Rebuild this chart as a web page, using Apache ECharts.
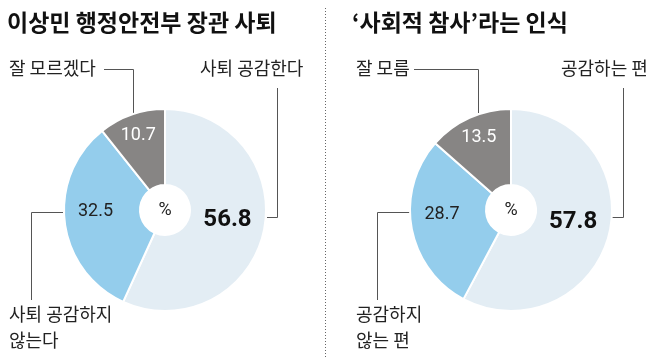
<!DOCTYPE html>
<html><head><meta charset="utf-8">
<script src="https://cdn.jsdelivr.net/npm/echarts@6/dist/echarts.min.js"></script>
<style>html,body{margin:0;padding:0;background:#fff}#c{width:658px;height:360px}</style>
</head><body><div id="c"></div>
<script>
const titles = ['이상민 행정안전부 장관 사퇴', '‘사회적 참사’라는 인식'];
const leftNames = ['사퇴 공감한다', '사퇴 공감하지\n않는다', '잘 모르겠다'];
const leftValues = [56.8, 32.5, 10.7];
const rightNames = ['공감하는 편', '공감하지\n않는 편', '잘 모름'];
const rightValues = [57.8, 28.7, 13.5];
const colors = ['#e3edf4', '#94cdec', '#878584'];

const CJK = '"Noto Sans CJK KR", "Noto Sans", sans-serif';
const NUM = 'Roboto, "Liberation Sans", sans-serif';

function pieSeries(names, values, cx) {
  return {
    type: 'pie', center: [cx, 210], radius: [25, 101],
    startAngle: 90, clockwise: true, silent: true,
    itemStyle: { borderColor: '#fff', borderWidth: 2 },
    labelLine: { show: false },
    data: values.map((v, i) => ({
      name: names[i], value: v,
      itemStyle: { color: colors[i] },
      label: i === 0
        ? { show: true, position: 'inside', formatter: '{c}', fontFamily: NUM, fontSize: 24, fontWeight: 'bold', color: '#111', offset: [-2, -4] }
        : i === 1
        ? { show: true, position: 'inside', formatter: '{c}', fontFamily: NUM, fontSize: 18, color: '#222', offset: [-4, -7] }
        : { show: true, position: 'inside', formatter: '{c}', fontFamily: NUM, fontSize: 18, color: '#fff', offset: [-5, -12] }
    }))
  };
}

const lineStyle = { stroke: '#555', lineWidth: 1, fill: null };
function poly(pts) { return { type: 'polyline', shape: { points: pts }, style: lineStyle, silent: true }; }
function txt(x, y, s, extra) {
  return Object.assign({ type: 'text', x: x, y: y, silent: true,
    style: Object.assign({ text: s, font: '18px ' + CJK, fill: '#222', lineHeight: 26, textVerticalAlign: 'top' }, extra || {}) });
}

const chart = echarts.init(document.getElementById('c'));
chart.setOption({
  animation: false,
  title: [
    { text: titles[0], left: 2, top: 6, textStyle: { fontFamily: CJK, fontSize: 23, fontWeight: 'bold', color: '#111' } },
    { text: titles[1], left: 347, top: 6, textStyle: { fontFamily: CJK, fontSize: 23, fontWeight: 'bold', color: '#111' } }
  ],
  series: [pieSeries(leftNames, leftValues, 165), pieSeries(rightNames, rightValues, 511)],
  graphic: [
    { type: 'line', shape: { x1: 325.5, y1: 8, x2: 325.5, y2: 358 }, style: { stroke: '#666', lineWidth: 1, lineDash: [1, 2] }, silent: true },
    // left pie annotations
    txt(9, 55, leftNames[2]),
    poly([[104, 69.5], [133.5, 69.5], [133.5, 113]]),
    txt(200, 55, leftNames[0]),
    poly([[277.5, 88], [277.5, 217.5], [267, 217.5]]),
    txt(9, 301, leftNames[1]),
    poly([[63, 212.5], [31.5, 212.5], [31.5, 300]]),
    txt(165, 210, '%', { font: '18px ' + NUM, textAlign: 'center', textVerticalAlign: 'middle' }),
    // right pie annotations
    txt(356, 55, rightNames[2]),
    poly([[414, 69.5], [478.5, 69.5], [478.5, 113]]),
    txt(561, 55, rightNames[0]),
    poly([[623.5, 88], [623.5, 217.5], [612, 217.5]]),
    txt(356, 301, rightNames[1]),
    poly([[410, 212.5], [377.5, 212.5], [377.5, 300]]),
    txt(511, 210, '%', { font: '18px ' + NUM, textAlign: 'center', textVerticalAlign: 'middle' })
  ]
});
</script></body></html>
